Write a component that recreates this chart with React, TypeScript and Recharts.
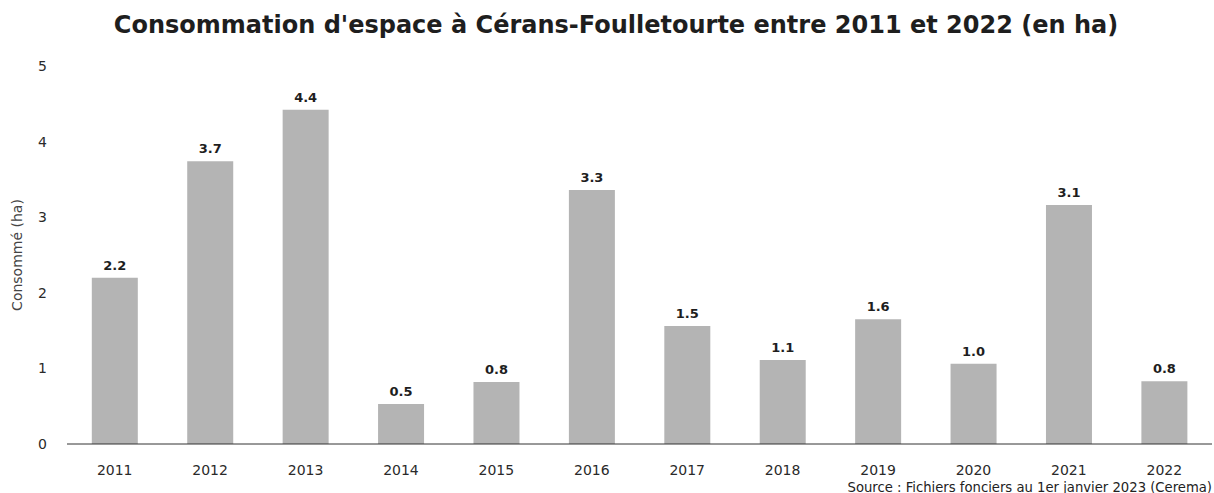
import { Bar, BarChart, LabelList, XAxis, YAxis } from "recharts";

const years = ["2011", "2012", "2013", "2014", "2015", "2016", "2017", "2018", "2019", "2020", "2021", "2022"];
const consumed = [2.2, 3.74, 4.42, 0.53, 0.82, 3.36, 1.56, 1.11, 1.65, 1.06, 3.16, 0.83];
const yTicks = [0, 1, 2, 3, 4, 5];

const data = years.map((year, i) => ({ year, value: consumed[i] }));

const font = "'DejaVu Sans', Verdana, sans-serif";

// labels in the source are truncated to one decimal
const fmt = (v: any) => (Math.floor(Number(v) * 10 + 1e-6) / 10).toFixed(1);

export default function App() {
  return (
    <div style={{ position: "absolute", left: 0, top: 0, width: 1214, height: 493, background: "#fff", fontFamily: font }}>
      <div
        style={{
          position: "absolute",
          left: 0,
          top: 11,
          width: 1232,
          textAlign: "center",
          fontSize: 24,
          fontWeight: "bold",
          color: "#1e1e1e",
        }}
      >
        Consommation d'espace à Cérans-Foulletourte entre 2011 et 2022 (en ha)
      </div>
      <BarChart width={1214} height={493} data={data} margin={{ top: 66, right: 2, bottom: 19, left: 0 }} barCategoryGap="26%">
        <XAxis
          dataKey="year"
          tickLine={false}
          axisLine={{ stroke: "#333", strokeWidth: 1 }}
          tick={{ fill: "#2a2a2a", fontSize: 14, fontFamily: font }}
          tickMargin={15}
        />
        <YAxis
          width={67}
          domain={[0, 5]}
          ticks={yTicks}
          tickLine={false}
          axisLine={false}
          tick={{ fill: "#2a2a2a", fontSize: 14, fontFamily: font }}
          tickMargin={14}
          label={{ value: "Consommé (ha)", angle: -90, position: "insideLeft", offset: 17, style: { fill: "#444", fontSize: 14, fontFamily: font, textAnchor: "middle" } }}
        />
        <Bar dataKey="value" fill="#b4b4b4" isAnimationActive={false}>
          <LabelList dataKey="value" position="top" offset={8} formatter={fmt} style={{ fill: "#1e1e1e", fontSize: 13, fontWeight: "bold", fontFamily: font }} />
        </Bar>
      </BarChart>
      <div
        style={{
          position: "absolute",
          right: 2,
          top: 480,
          fontSize: 13.2,
          fontFamily: font,
          color: "#222",
          whiteSpace: "nowrap",
        }}
      >
        Source : Fichiers fonciers au 1er janvier 2023 (Cerema)
      </div>
    </div>
  );
}
